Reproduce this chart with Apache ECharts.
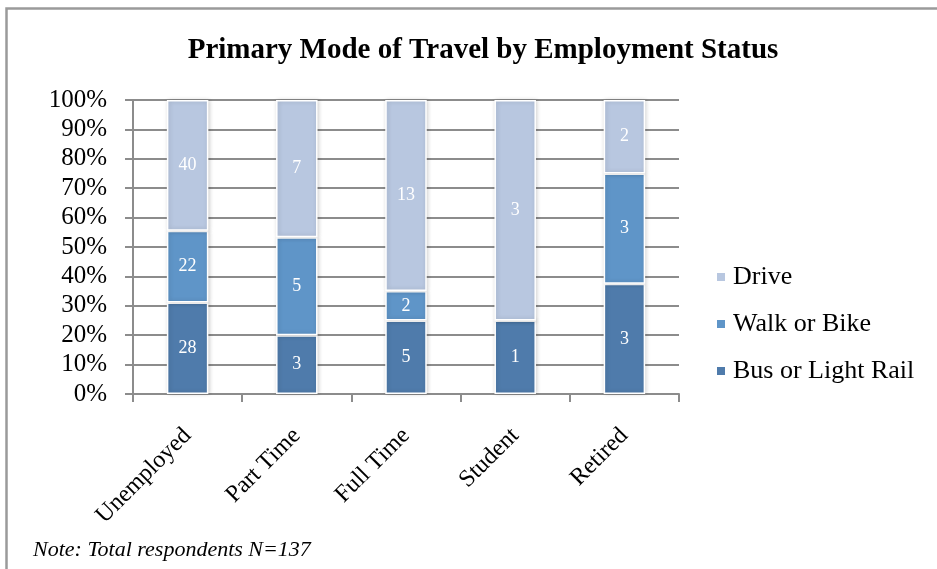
<!DOCTYPE html>
<html>
<head>
<meta charset="utf-8">
<script src="https://cdn.jsdelivr.net/npm/echarts@6/dist/echarts.min.js"></script>
<style>
  html, body { margin: 0; padding: 0; background: #fff; }
  #chart { width: 937px; height: 569px; }
</style>
</head>
<body>
<div id="chart"></div>
<script>
// Respondent counts by employment status and travel mode
const categories = ['Unemployed', 'Part Time', 'Full Time', 'Student', 'Retired'];
const busOrLightRail = [28, 3, 5, 1, 3];
const walkOrBike = [22, 5, 2, 0, 3];
const drive = [40, 7, 13, 3, 2];
const yTicks = [0, 10, 20, 30, 40, 50, 60, 70, 80, 90, 100];

const totals = categories.map((_, i) => busOrLightRail[i] + walkOrBike[i] + drive[i]);
const toShare = arr => arr.map((v, i) => ({ value: v / totals[i] * 100, count: v }));

const serif = '"Liberation Serif", "DejaVu Serif", serif';
const colors = { bus: '#4f7bab', walk: '#5f95c8', drive: '#b8c7e0' };

function barSeries(name, arr, color) {
  return {
    name: name,
    type: 'bar',
    stack: 'modes',
    barCategoryGap: '62%',
    data: toShare(arr),
    itemStyle: {
      color: color,
      borderColor: '#ffffff',
      borderWidth: 1.5,
      shadowBlur: 4,
      shadowColor: 'rgba(0,0,0,0.18)',
      shadowOffsetX: 1
    },
    label: {
      show: true,
      position: 'inside',
      color: '#ffffff',
      fontFamily: serif,
      fontSize: 18,
      formatter: p => (p.data.count > 0 ? String(p.data.count) : '')
    }
  };
}

const chart = echarts.init(document.getElementById('chart'));
chart.setOption({
  animation: false,
  backgroundColor: '#ffffff',
  title: {
    text: 'Primary Mode of Travel by Employment Status',
    left: 478,
    top: 31,
    textAlign: 'center',
    textStyle: { fontFamily: serif, fontWeight: 'bold', fontSize: 29, color: '#000' }
  },
  graphic: [
    {
      type: 'rect',
      shape: { x: 6.5, y: 8.5, width: 940, height: 580 },
      style: { fill: 'none', stroke: '#9a9a9a', lineWidth: 2.5 }
    },
    {
      type: 'text',
      left: 33,
      top: 539,
      style: {
        text: 'Note: Total respondents N=137',
        font: 'italic 22px ' + serif,
        fill: '#000'
      }
    }
  ],
  legend: {
    orient: 'vertical',
    left: 710,
    top: 259,
    itemGap: 21,
    itemWidth: 10,
    itemHeight: 10,
    icon: 'rect',
    data: ['Drive', 'Walk or Bike', 'Bus or Light Rail'],
    textStyle: { fontFamily: serif, fontSize: 26, color: '#000', padding: [0, 0, 0, 2] }
  },
  grid: { left: 133, right: 258, top: 100, bottom: 175, containLabel: false },
  xAxis: {
    type: 'category',
    data: categories,
    axisLine: { lineStyle: { color: '#8c8c8c', width: 2 } },
    axisTick: { show: true, length: 8, lineStyle: { color: '#8c8c8c', width: 2 } },
    axisLabel: {
      rotate: 45,
      margin: 38,
      fontFamily: serif,
      fontSize: 24,
      color: '#000'
    }
  },
  yAxis: {
    type: 'value',
    min: yTicks[0],
    max: yTicks[yTicks.length - 1],
    interval: 10,
    axisLine: { show: true, lineStyle: { color: '#8c8c8c', width: 2 } },
    axisTick: { show: true, length: 8, lineStyle: { color: '#8c8c8c', width: 2 } },
    splitLine: { show: true, lineStyle: { color: '#8c8c8c', width: 2 } },
    axisLabel: {
      margin: 26,
      fontFamily: serif,
      fontSize: 25,
      color: '#000',
      formatter: v => v + '%'
    }
  },
  series: [
    barSeries('Bus or Light Rail', busOrLightRail, colors.bus),
    barSeries('Walk or Bike', walkOrBike, colors.walk),
    barSeries('Drive', drive, colors.drive)
  ]
});
</script>
</body>
</html>
